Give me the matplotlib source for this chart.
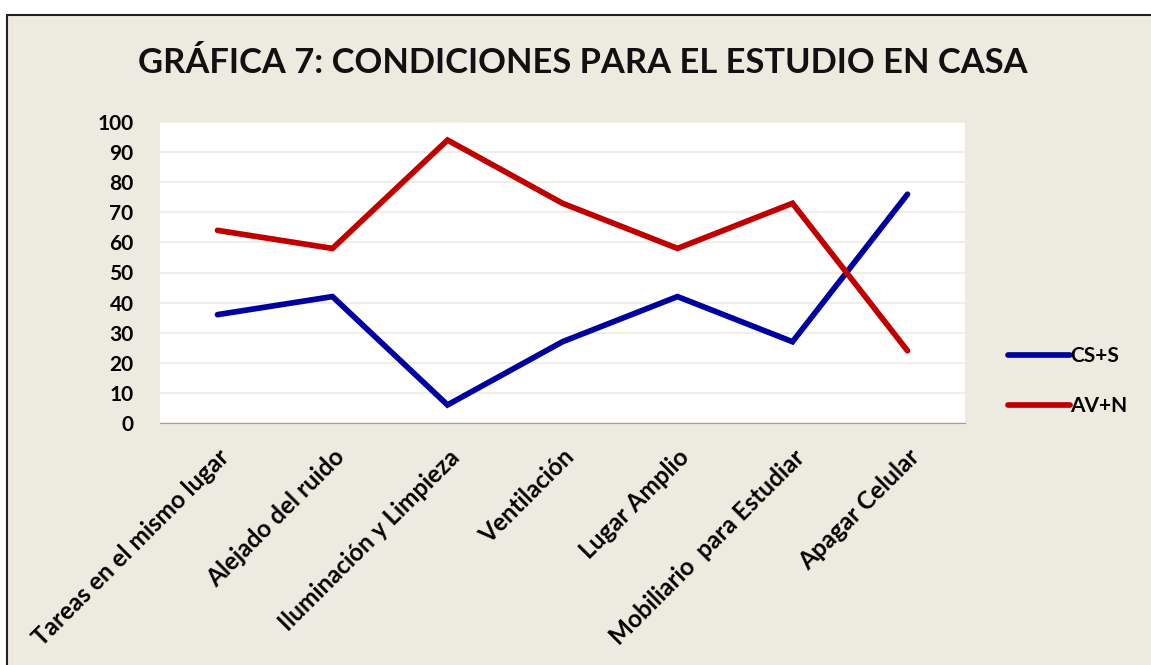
import matplotlib
matplotlib.use("Agg")
import matplotlib.pyplot as plt
from matplotlib.patches import Rectangle
from matplotlib.lines import Line2D

categories = ["Tareas en el mismo lugar", "Alejado del ruido", "Iluminación y Limpieza",
              "Ventilación", "Lugar Amplio", "Mobiliario  para Estudiar", "Apagar Celular"]
cs_s = [36, 42, 6, 27, 42, 27, 76]
av_n = [64, 58, 94, 73, 58, 73, 24]
yticks = list(range(0, 101, 10))

BG = "#EDEBE0"
BLUE = "#0000A0"
RED = "#C00000"
FONT = ["Lato", "DejaVu Sans"]
plt.rcParams['font.family'] = FONT

W, H = 1151, 665
fig = plt.figure(figsize=(W / 100, H / 100), dpi=100)
fig.patch.set_facecolor("white")

# chart frame
fig.patches.append(Rectangle((7 / W, -0.1), 1.2, 1 - 15 / H + 0.1, transform=fig.transFigure,
                             facecolor=BG, edgecolor="#222222", linewidth=1.5, zorder=-10))

ax = fig.add_axes([160 / W, 1 - 423 / H, (965 - 160) / W, (423 - 122) / H])
ax.set_facecolor("white")
x = list(range(len(categories)))
l1, = ax.plot(x, cs_s, color=BLUE, linewidth=4.1, solid_capstyle="round", solid_joinstyle="miter", zorder=3)
l2, = ax.plot(x, av_n, color=RED, linewidth=4.1, solid_capstyle="round", solid_joinstyle="miter", zorder=3)
ax.set_xlim(-0.5, len(categories) - 0.5)
ax.set_ylim(0, 100)
ax.set_yticks(yticks)
ax.set_yticklabels([str(v) for v in yticks], fontsize=15, fontweight="bold")
ax.grid(axis="y", color="#EDEBE0", linewidth=1.2, zorder=0)
ax.set_axisbelow(True)
for s in ["top", "right", "left"]:
    ax.spines[s].set_visible(False)
ax.spines["bottom"].set_color("#A0A0A0")
ax.tick_params(axis="y", length=0, pad=19)
ax.tick_params(axis="x", length=0, pad=16)
ax.set_xticks(x)
ax.set_xticklabels(categories, rotation=45, ha="right", rotation_mode="anchor",
                   fontsize=17.5, fontweight="bold")

fig.text(583 / W, 1 - 63 / H, "GRÁFICA 7: CONDICIONES PARA EL ESTUDIO EN CASA",
         ha="center", va="center", fontsize=24.8, fontweight="bold", color="#111111")

leg = fig.legend(handles=[l1, l2], labels=["CS+S", "AV+N"], loc="center left",
                 bbox_to_anchor=(989 / W, 1 - 381 / H), frameon=False,
                 prop={"size": 15, "weight": "bold"}, handlelength=3.0, handletextpad=0.0,
                 labelspacing=1.45)

fig.savefig("out.png", dpi=100, facecolor=fig.get_facecolor())
